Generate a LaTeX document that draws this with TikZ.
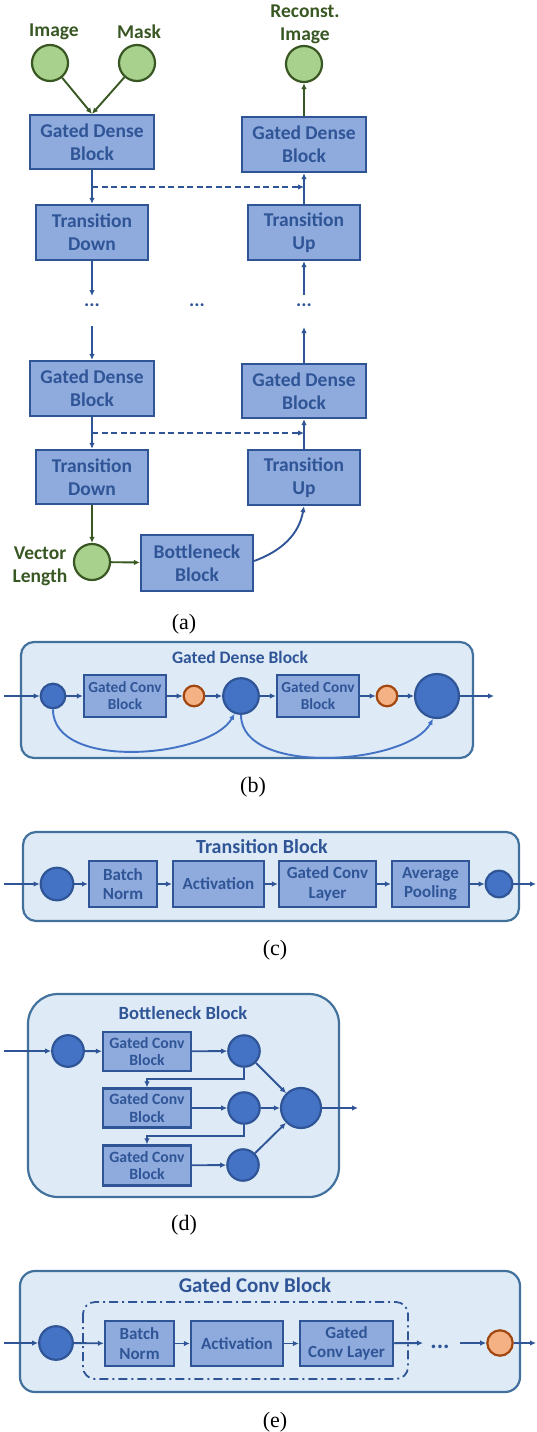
\documentclass[tikz,border=0pt]{standalone}
\usepackage{fontspec}
\setmainfont{Liberation Serif}
\newfontfamily\carlito{Carlito}
\usetikzlibrary{calc,arrows.meta}
\definecolor{boxfill}{HTML}{8FAADC}
\definecolor{boxline}{HTML}{2F5597}
\definecolor{dotfill}{HTML}{4472C4}
\definecolor{orfill}{HTML}{F4B183}
\definecolor{orline}{HTML}{A1460F}
\definecolor{grfill}{HTML}{A9D18E}
\definecolor{grline}{HTML}{385723}
\definecolor{panfill}{HTML}{DEEBF7}
\definecolor{panline}{HTML}{41719C}

\begin{document}
\begin{tikzpicture}[x=1pt,y=-1pt,
  blk/.style={draw=boxline, fill=boxfill, line width=2.2pt, align=center, inner sep=0pt, text=boxline},
  fa/.style={font=\carlito\bfseries\fontsize{19.5}{23}\selectfont},
  fb/.style={font=\carlito\bfseries\fontsize{15.3}{17}\selectfont},
  fc/.style={font=\carlito\bfseries\fontsize{17}{19.5}\selectfont},
  fd/.style={font=\carlito\bfseries\fontsize{15.7}{17.5}\selectfont},
  bl/.style={circle, draw=boxline, fill=dotfill, line width=2.2pt, inner sep=0pt},
  org/.style={circle, draw=orline, fill=orfill, line width=2.2pt, inner sep=0pt},
  grn/.style={circle, draw=grline, fill=grfill, line width=2.2pt, inner sep=0pt, minimum size=36pt},
  glab/.style={fa, text=grline, align=center, inner sep=0pt},
  ttl/.style={text=boxline, inner sep=0pt},
  ellip/.style={fa, text=boxline, inner sep=1pt},
  arr/.style={draw=boxline, line width=1.9pt, -{Latex[length=6pt,width=5.5pt]}},
  garr/.style={arr, draw=grline},
  dsh/.style={dash pattern=on 6pt off 3.5pt},
  pan/.style={draw=panline, fill=panfill, line width=2.2pt},
  capt/.style={font=\fontsize{22}{26}\selectfont, text=black}]
  \useasboundingbox (0,0) rectangle (536,1432);

  % (a) overview
  \node[grn] (img) at (50,63) {};
  \node[glab] at (54,32) {Image};
  \node[grn] (msk) at (137,63) {};
  \node[glab] at (139,32) {Mask};
  \node[grn] (rec) at (304,64) {};
  \node[glab] at (305,24) {Reconst.\\Image};
  \node[blk,fa,minimum width=124,minimum height=54] (gd1) at (92,142) {Gated Dense\\Block};
  \node[blk,fa,minimum width=112,minimum height=55] (td1) at (92,232.5) {Transition\\Down};
  \node[blk,fa,minimum width=124,minimum height=55] (gu1) at (304,144.5) {Gated Dense\\Block};
  \node[blk,fa,minimum width=112,minimum height=55] (tu1) at (304,232.5) {Transition\\Up};
  \node[ellip] (dl) at (92,305) {...};
  \node[ellip] (dm) at (197,305) {...};
  \node[ellip] (dr) at (304,305) {...};
  \node[blk,fa,minimum width=124,minimum height=55] (gd2) at (92,388.5) {Gated Dense\\Block};
  \node[blk,fa,minimum width=112,minimum height=54] (td2) at (92,477) {Transition\\Down};
  \node[blk,fa,minimum width=124,minimum height=54] (gu2) at (304,391) {Gated Dense\\Block};
  \node[blk,fa,minimum width=112,minimum height=55] (tu2) at (304,477.5) {Transition\\Up};
  \node[grn] (vec) at (92,562) {};
  \node[glab] at (40,566) {Vector\\Length};
  \node[blk,fa,minimum width=112,minimum height=56] (bn) at (197,563) {Bottleneck\\Block};
  \coordinate (sk1) at ($(gd1.south)!0.5!(td1.north)$);
  \coordinate (sk2) at ($(gd2.south)!0.5!(td2.north)$);

  \draw[garr] (img) -- (gd1.north);
  \draw[garr] (msk) -- (gd1.north);
  \draw[garr] (gu1) -- (rec);
  \draw[arr] (gd1) -- (td1);
  \draw[arr,dsh] (sk1) -- (sk1 -| gu1.south);
  \draw[arr] (tu1) -- (gu1);
  \draw[arr] (td1) -- ($(dl)+(0,-9)$);
  \draw[arr] ($(dl)+(0,21)$) -- (gd2);
  \draw[arr] ($(dr)+(0,-10)$) -- (tu1);
  \draw[arr] (gu2) -- ($(dr)+(0,22)$);
  \draw[arr] (gd2) -- (td2);
  \draw[arr,dsh] (sk2) -- (sk2 -| gu2.south);
  \draw[arr] (tu2) -- (gu2);
  \draw[garr] (td2) -- (vec);
  \draw[garr] (vec) -- (bn);
  \draw[arr] ([yshift=2pt]bn.east) to[out=20,in=-100] (tu2.south);
  \node[capt] at (184,624) {(a)};

  % (b) gated dense block
  \draw[pan, rounded corners=13] (21,642) rectangle (473,758);
  \node[ttl, font=\carlito\bfseries\fontsize{17.5}{20}\selectfont] at (240,657) {Gated Dense Block};
  \coordinate (bin) at (4,696);
  \coordinate (bout) at (494,696);
  \node[bl, minimum size=24.6] (c1) at (53,696) {};
  \node[blk,fb,minimum width=82,minimum height=42] (g1) at (125,696) {Gated Conv\\Block};
  \node[org, minimum size=20.6] (o1) at (194,696) {};
  \node[bl, minimum size=35.6] (c2) at (241,696) {};
  \node[blk,fb,minimum width=82,minimum height=42] (g2) at (318,696) {Gated Conv\\Block};
  \node[org, minimum size=20.6] (o2) at (387,696) {};
  \node[bl, minimum size=44] (c3) at (437,696) {};
  \draw[arr] (bin) -- (c1);
  \draw[arr] (c1) -- (g1);
  \draw[arr] (g1) -- (o1);
  \draw[arr] (o1) -- (c2);
  \draw[arr] (c2) -- (g2);
  \draw[arr] (g2) -- (o2);
  \draw[arr] (o2) -- (c3);
  \draw[arr] (c3) -- (bout);
  \draw[arr, draw=dotfill] (c1.south) .. controls +(0,62) and +(-25,44) .. (c2.250);
  \draw[arr, draw=dotfill] (c2.south) .. controls +(0,62) and +(-25,46) .. (c3.260);
  \node[capt] at (253,787) {(b)};

  % (c) transition block
  \draw[pan, rounded corners=13] (23,832) rectangle (519,921);
  \node[ttl, font=\carlito\bfseries\fontsize{20}{23}\selectfont] at (262,847) {Transition Block};
  \coordinate (tin) at (4,884);
  \coordinate (tout) at (536,884);
  \node[bl, minimum size=32.6] (t0) at (57,884) {};
  \node[blk,fc,minimum width=68,minimum height=46] (tbn) at (123,884) {Batch\\Norm};
  \node[blk,fc,minimum width=91,minimum height=46] (tact) at (218.5,884) {Activation};
  \node[blk,fc,minimum width=97,minimum height=46] (tgc) at (327.5,884) {Gated Conv\\Layer};
  \node[blk,fc,minimum width=77,minimum height=46] (tavg) at (430.5,884) {Average\\Pooling};
  \node[bl, minimum size=26.6] (t5) at (499,884) {};
  \draw[arr] (tin) -- (t0);
  \draw[arr] (t0) -- (tbn);
  \draw[arr] (tbn) -- (tact);
  \draw[arr] (tact) -- (tgc);
  \draw[arr] (tgc) -- (tavg);
  \draw[arr] (tavg) -- (t5);
  \draw[arr] (t5) -- (tout);
  \node[capt] at (275,950) {(c)};

  % (d) bottleneck block
  \draw[pan, rounded corners=30] (28,994) rectangle (339,1197);
  \node[ttl, font=\carlito\bfseries\fontsize{18.6}{21}\selectfont] at (183,1013) {Bottleneck Block};
  \coordinate (kin) at (4,1051);
  \coordinate (kout) at (358,1108);
  \node[bl, minimum size=31.6] (k0) at (68,1051) {};
  \node[blk,fd,minimum width=88,minimum height=39] (ga) at (147,1051.5) {Gated Conv\\Block};
  \node[blk,fd,minimum width=88,minimum height=39] (gb) at (147,1108) {Gated Conv\\Block};
  \node[blk,fd,minimum width=88,minimum height=40] (gc) at (147,1165.5) {Gated Conv\\Block};
  \node[bl, minimum size=31.4] (k1) at (244,1051) {};
  \node[bl, minimum size=31.4] (k2) at (244,1108) {};
  \node[bl, minimum size=31.4] (k3) at (243,1165) {};
  \node[bl, minimum size=40] (kk) at (301,1108) {};
  \draw[arr] (kin) -- (k0);
  \draw[arr] (k0) -- (ga);
  \draw[arr] (ga) -- (k1);
  \draw[arr] (gb) -- (k2);
  \draw[arr] (gc) -- (k3);
  \draw[arr] (k1.south) -- ++(0,11) -| (gb.north);
  \draw[arr] (k2.south) -- ++(0,11) -| (gc.north);
  \draw[arr] (k1) -- (kk);
  \draw[arr] (k2) -- (kk);
  \draw[arr] (k3) -- (kk);
  \draw[arr] (kk) -- (kout);
  \node[capt] at (184,1225) {(d)};

  % (e) gated conv block
  \draw[pan, rounded corners=15] (20,1271) rectangle (520,1392);
  \node[ttl, font=\carlito\bfseries\fontsize{21}{24}\selectfont] at (255,1285) {Gated Conv Block};
  \draw[boxline, line width=1.8pt, dash pattern=on 9pt off 4pt on 2pt off 4pt, rounded corners=12] (83,1302) rectangle (408,1379);
  \coordinate (ein) at (4,1343);
  \coordinate (eout) at (536,1343);
  \node[bl, minimum size=33.6] (e0) at (56,1343) {};
  \node[blk,fc,minimum width=69,minimum height=45] (ebn) at (139.5,1343.5) {Batch\\Norm};
  \node[blk,fc,minimum width=92,minimum height=45] (eact) at (237,1343.5) {Activation};
  \node[blk,fc,minimum width=93,minimum height=45] (egc) at (346.5,1343.5) {Gated\\Conv Layer};
  \node[ellip, font=\carlito\bfseries\fontsize{24}{28}\selectfont] (ed) at (440,1347) {...};
  \node[org, minimum size=25.4] (eo) at (500,1343) {};
  \coordinate (ea) at (423,1343);
  \coordinate (eb) at (460,1343);
  \draw[arr] (ein) -- (e0);
  \draw[arr] (e0) -- (ebn);
  \draw[arr] (ebn) -- (eact);
  \draw[arr] (eact) -- (egc);
  \draw[arr] (egc) -- (ea);
  \draw[arr] (eb) -- (eo);
  \draw[arr] (eo) -- (eout);
  \node[capt] at (275,1422) {(e)};
\end{tikzpicture}
\end{document}
